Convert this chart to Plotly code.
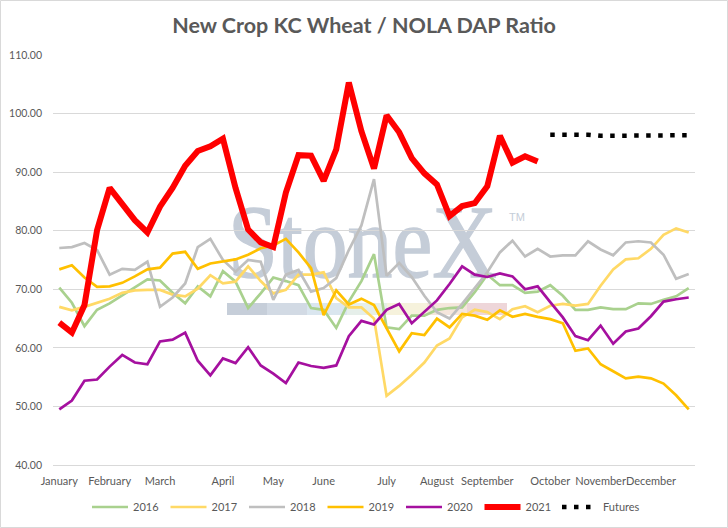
import base64
import plotly.graph_objects as go

weeks = list(range(51))
month_ticks = [0, 4, 8, 13, 17, 21, 26, 30, 34, 39, 43, 47]
months = ["January", "February", "March", "April", "May", "June", "July",
          "August", "September", "October", "November", "December"]

y2016 = [70.3, 67.7, 63.7, 66.5, 67.6, 69.0, 70.3, 71.7, 71.5, 69.4, 67.6, 70.5, 68.8,
         73.1, 71.3, 66.8, 69.3, 72.0, 71.4, 70.7, 66.8, 66.5, 63.4, 67.9, 71.4, 76.0,
         63.5, 63.2, 65.5, 65.5, 66.5, 66.8, 66.9, 69.5, 72.5, 70.7, 70.7, 69.4, 69.6,
         70.7, 68.9, 66.5, 66.5, 66.9, 66.6, 66.6, 67.6, 67.5, 68.2, 68.8, 70.2]
y2017 = [67.0, 66.4, 67.0, 67.7, 68.4, 69.4, 69.8, 69.9, 69.9, 69.1, 68.8, 70.1, 72.4,
         71.0, 71.3, 73.9, 71.4, 69.3, 69.9, 72.5, 72.5, 72.9, 68.5, 66.9, 66.9, 65.0,
         51.8, 53.5, 55.4, 57.5, 60.4, 61.6, 65.2, 66.5, 66.1, 64.9, 66.6, 67.1, 66.1,
         67.2, 67.5, 67.2, 67.5, 70.6, 73.4, 75.1, 75.3, 76.9, 79.3, 80.4, 79.7]
y2018 = [77.05, 77.2, 77.9, 76.7, 72.5, 73.5, 73.3, 74.7, 67.0, 68.6, 71.0, 77.2, 78.6,
         75.0, 73.0, 75.0, 74.7, 68.2, 72.5, 73.3, 69.6, 70.2, 71.9, 76.7, 80.9, 88.8,
         72.3, 74.5, 72.1, 68.9, 66.1, 65.0, 67.5, 70.2, 72.9, 76.3, 78.3, 75.6, 76.9,
         75.6, 75.8, 75.8, 78.2, 76.8, 75.8, 78.0, 78.2, 78.0, 75.9, 71.8, 72.6]
y2019 = [73.4, 74.1, 72.0, 70.4, 70.5, 71.1, 72.2, 73.4, 73.7, 76.1, 76.4, 73.5, 74.4,
         74.8, 75.1, 75.9, 77.0, 77.5, 78.6, 76.3, 73.6, 65.6, 69.8, 67.4, 68.4, 67.3,
         63.4, 59.4, 62.5, 62.2, 65.0, 63.5, 65.8, 65.5, 64.8, 66.4, 65.3, 65.8, 65.3,
         64.9, 64.2, 59.5, 59.9, 57.2, 56.0, 54.8, 55.1, 54.8, 53.9, 51.9, 49.5]
y2020 = [49.5, 51.0, 54.4, 54.6, 56.8, 58.8, 57.5, 57.2, 61.1, 61.4, 62.6, 57.8, 55.3,
         58.2, 57.4, 60.1, 57.0, 55.6, 54.0, 57.5, 56.9, 56.6, 57.0, 62.0, 64.6, 64.0,
         66.5, 67.5, 64.2, 66.1, 68.1, 70.9, 73.9, 72.5, 72.1, 72.7, 72.2, 70.0, 70.5,
         67.8, 65.2, 62.0, 61.3, 63.8, 60.7, 62.8, 63.3, 65.4, 67.9, 68.3, 68.6]
y2021 = [64.3, 62.6, 67.3, 80.1, 87.3, 84.7, 81.8, 79.7, 84.1, 87.3, 91.1, 93.6, 94.4,
         95.7, 87.3, 80.2, 78.0, 77.2, 86.5, 92.9, 92.8, 88.5, 93.9, 105.3, 97.0, 90.6,
         99.7, 96.8, 92.4, 89.8, 87.9, 82.5, 84.2, 84.7, 87.6, 96.2, 91.6, 92.7, 91.8,
         None, None, None, None, None, None, None, None, None, None, None, None]
futures = [None] * 39 + [96.4, 96.4, 96.4, 96.4, 96.2, 96.2, 96.2, 96.2, 96.3, 96.3, 96.3, 96.3]

series = [
    ("2016", y2016, "#a9d18e", 2.7, None, "legend"),
    ("2017", y2017, "#ffd966", 2.7, None, "legend"),
    ("2018", y2018, "#bfbfbf", 2.7, None, "legend"),
    ("2019", y2019, "#ffc000", 2.7, None, "legend"),
    ("2020", y2020, "#a5109f", 2.7, None, "legend"),
    ("2021", y2021, "#ff0000", 6, None, "legend"),
    ("Futures", futures, "#000000", 4.5, "4.5px,7.5px", "legend2"),
]

fig = go.Figure()
for name, vals, color, w, dash, lg in series:
    line = dict(color=color, width=w)
    if dash:
        line["dash"] = dash
    fig.add_trace(go.Scatter(x=weeks, y=vals, name=name, mode="lines", line=line,
                             connectgaps=False, legend=lg))

# watermark (decorative) as an svg image behind the traces
bar_cols = ["#c6ced9", "#d2dae4", "#dae6ef", "#e6efea", "#f6f2dc", "#f5e6dc", "#eed6d9"]
rects = "".join(
    f'<rect x="{7 + i * 40}" y="113" width="40" height="12" fill="{c}"/>'
    for i, c in enumerate(bar_cols)
)
svg = (
    '<svg xmlns="http://www.w3.org/2000/svg" width="310" height="130" viewBox="0 0 310 130">'
    '<text x="8" y="87" font-family="Liberation Serif" font-size="104" fill="#c5cdd8" '
    'stroke="#c5cdd8" stroke-width="1.5" '
    'textLength="269" lengthAdjust="spacingAndGlyphs">StoneX</text>'
    '<text x="289" y="31" font-family="Liberation Sans" font-size="11" fill="#c5cdd8">TM</text>'
    + rects + '</svg>'
)
uri = "data:image/svg+xml;base64," + base64.b64encode(svg.encode()).decode()

W, H = 728, 528
L, R, T, B = 53, 33, 55, 63
pw, ph = W - L - R, H - T - B

def px(x):
    return (x - L) / pw

def py(y):
    return (H - B - y) / ph

fig.add_layout_image(dict(source=uri, xref="paper", yref="paper", x=px(220), y=py(190),
                          sizex=310 / pw, sizey=130 / ph, xanchor="left", yanchor="top",
                          sizing="stretch", layer="below"))

fig.add_shape(type="rect", xref="paper", yref="paper", x0=px(0.5), x1=px(727.5),
              y0=py(527.5), y1=py(0.5), line=dict(color="#d9d9d9", width=1))

font = "Lato, 'Liberation Sans', sans-serif"
legend_font = dict(family=font, size=11, color="#595959")
fig.update_layout(
    width=W, height=H,
    margin=dict(l=L, r=R, t=T, b=B, autoexpand=False),
    paper_bgcolor="white", plot_bgcolor="rgba(0,0,0,0)",
    title=dict(text="<b>New Crop KC Wheat / NOLA DAP Ratio</b>", x=0.5, xanchor="center",
               y=1 - 25 / H, yanchor="middle", yref="container",
               font=dict(family=font, size=21.5, color="#595959")),
    font=dict(family=font, size=11, color="#595959"),
    showlegend=True,
    legend=dict(orientation="h", x=px(87), xanchor="left", y=py(507), yanchor="middle",
                font=legend_font, entrywidth=27.5, entrywidthmode="pixels", itemwidth=36,
                bgcolor="rgba(0,0,0,0)"),
    legend2=dict(orientation="h", x=px(557), xanchor="left", y=py(507), yanchor="middle",
                 font=legend_font, itemwidth=36, bgcolor="rgba(0,0,0,0)"),
    xaxis=dict(range=[-0.5, 50.5], tickvals=month_ticks, ticktext=months, showgrid=False,
               zeroline=False, showline=True, linecolor="#d9d9d9", linewidth=1, ticks="",
               tickangle=0, automargin=False,
               ticklabelstandoff=6, tickfont=dict(family=font, size=11, color="#595959")),
    yaxis=dict(range=[40, 110], dtick=10, tick0=40, tickformat=".2f", showgrid=True,
               gridcolor="#d9d9d9", gridwidth=1, zeroline=False, showline=False, ticks="",
               automargin=False,
               ticklabelstandoff=10, tickfont=dict(family=font, size=10.5, color="#595959")),
)

fig.write_html("out.html", config={"displayModeBar": False},
               post_script="document.body.style.margin='0';document.body.style.overflow='hidden';")
